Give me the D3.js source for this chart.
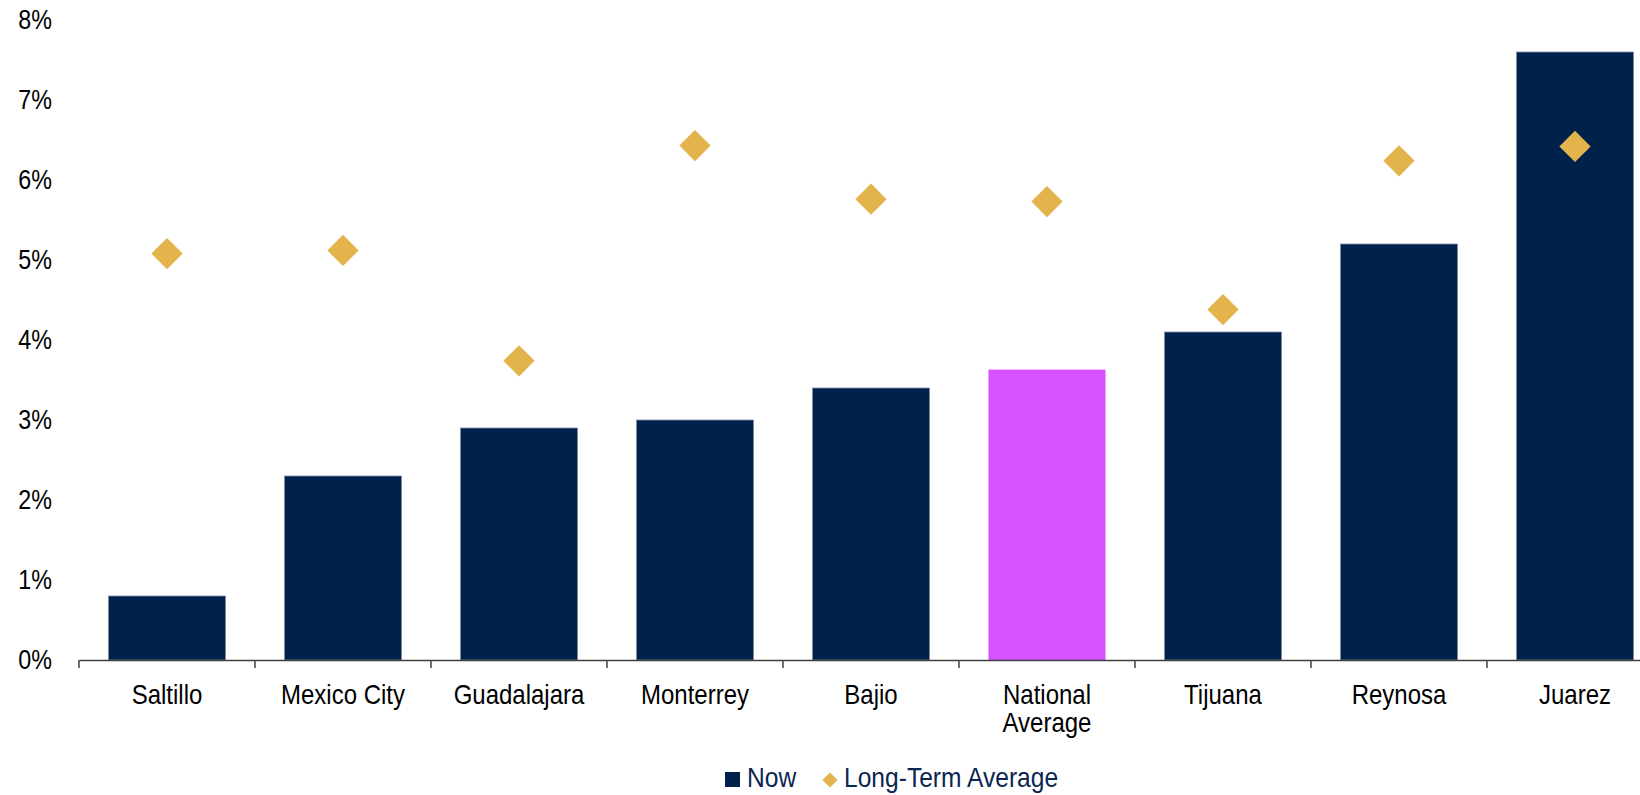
<!DOCTYPE html>
<html>
<head>
<meta charset="utf-8">
<script src="https://cdn.jsdelivr.net/npm/d3@7"></script>
<style>
  html, body { margin: 0; padding: 0; background: #fff; }
  svg { display: block; font-family: "Liberation Sans", Arial, sans-serif; }
</style>
</head>
<body>
<svg id="chart" width="1640" height="795"></svg>
<script>
// Vacancy rate by market: current level vs long-term average
const categories = ["Saltillo", "Mexico City", "Guadalajara", "Monterrey", "Bajio",
                    "National Average", "Tijuana", "Reynosa", "Juarez"];
const nowValues = [0.8, 2.3, 2.9, 3.0, 3.4, 3.63, 4.1, 5.2, 7.6];
const longTermValues = [5.08, 5.12, 3.74, 6.43, 5.76, 5.73, 4.38, 6.24, 6.42];
const yTicks = [0, 1, 2, 3, 4, 5, 6, 7, 8];
const highlight = "National Average";
const legendItems = ["Now", "Long-Term Average"];

const navy = "#00224A";
const magenta = "#D652FF";
const gold = "#E3B34C";

const svg = d3.select("#chart");

const x = d3.scaleBand()
  .domain(categories)
  .range([79, 1663])
  .paddingInner(0.335)
  .paddingOuter(0.1675);

const y = d3.scaleLinear().domain([0, 8]).range([660, 20]);

// Bars: current rate
svg.append("g").selectAll("rect")
  .data(categories)
  .join("rect")
  .attr("x", d => x(d))
  .attr("width", x.bandwidth())
  .attr("y", (d, i) => y(nowValues[i]))
  .attr("height", (d, i) => y(0) - y(nowValues[i]))
  .attr("fill", d => d === highlight ? magenta : navy)
  .attr("stroke", d => d === highlight ? "none" : "#7d8ca3")
  .attr("stroke-width", 0.8);

// Diamonds: long-term average
const diamond = d3.symbol(d3.symbolSquare, 490);
svg.append("g").selectAll("path")
  .data(categories)
  .join("path")
  .attr("d", diamond)
  .attr("fill", gold)
  .attr("transform", (d, i) =>
    `translate(${x(d) + x.bandwidth() / 2},${y(longTermValues[i])}) rotate(45)`);

// Y axis labels
const yAxis = svg.append("g")
  .attr("transform", "translate(79,0)")
  .call(d3.axisLeft(y).tickValues(yTicks).tickFormat(d => d + "%").tickSize(0).tickPadding(27));
yAxis.select(".domain").remove();
yAxis.selectAll("text")
  .attr("font-size", 23.3)
  .attr("fill", "#000")
  .attr("font-family", "Liberation Sans, Arial, sans-serif")
  .attr("dy", "0.3em")
  .attr("transform", "scale(1,1.22)");

// X axis line
const xAxis = svg.append("g")
  .attr("transform", "translate(0,660)")
  .call(d3.axisBottom(x).tickSize(0).tickPadding(0).tickFormat(""));
xAxis.select(".domain").attr("stroke", "#404040").attr("stroke-width", 1.5);

// Category boundary ticks
const step = x.step();
const bounds = categories.map(d => x(d) - (step - x.bandwidth()) / 2);
svg.append("g").selectAll("line")
  .data(bounds)
  .join("line")
  .attr("x1", d => d).attr("x2", d => d)
  .attr("y1", 660).attr("y2", 668)
  .attr("stroke", "#404040").attr("stroke-width", 1.5);

// Category labels (the long one wraps onto two lines)
xAxis.selectAll(".tick").each(function(d) {
  const g = d3.select(this);
  g.select("text").remove();
  const lines = d === highlight ? ["National", "Average"] : [d];
  const t = g.append("text")
    .attr("text-anchor", "middle")
    .attr("font-size", 24)
    .attr("fill", "#000")
    .attr("font-family", "Liberation Sans, Arial, sans-serif")
    .attr("transform", "scale(1,1.13)");
  lines.forEach((ln, k) => {
    t.append("tspan").attr("x", 0).attr("y", 39 + k * 24.7).text(ln);
  });
});

// Legend
const legend = svg.append("g").attr("font-size", 24.6).attr("fill", "#0b2650");
legend.append("rect").attr("x", 725).attr("y", 772).attr("width", 15).attr("height", 15).attr("fill", navy);
legend.append("text").attr("x", 747).attr("y", 0)
  .attr("transform", "translate(0,787) scale(1,1.1)")
  .text(legendItems[0]);
legend.append("path")
  .attr("d", d3.symbol(d3.symbolSquare, 115)())
  .attr("fill", gold)
  .attr("transform", "translate(830,780) rotate(45)");
legend.append("text").attr("x", 844).attr("y", 0)
  .attr("transform", "translate(0,787) scale(1,1.1)")
  .text(legendItems[1]);
</script>
</body>
</html>
